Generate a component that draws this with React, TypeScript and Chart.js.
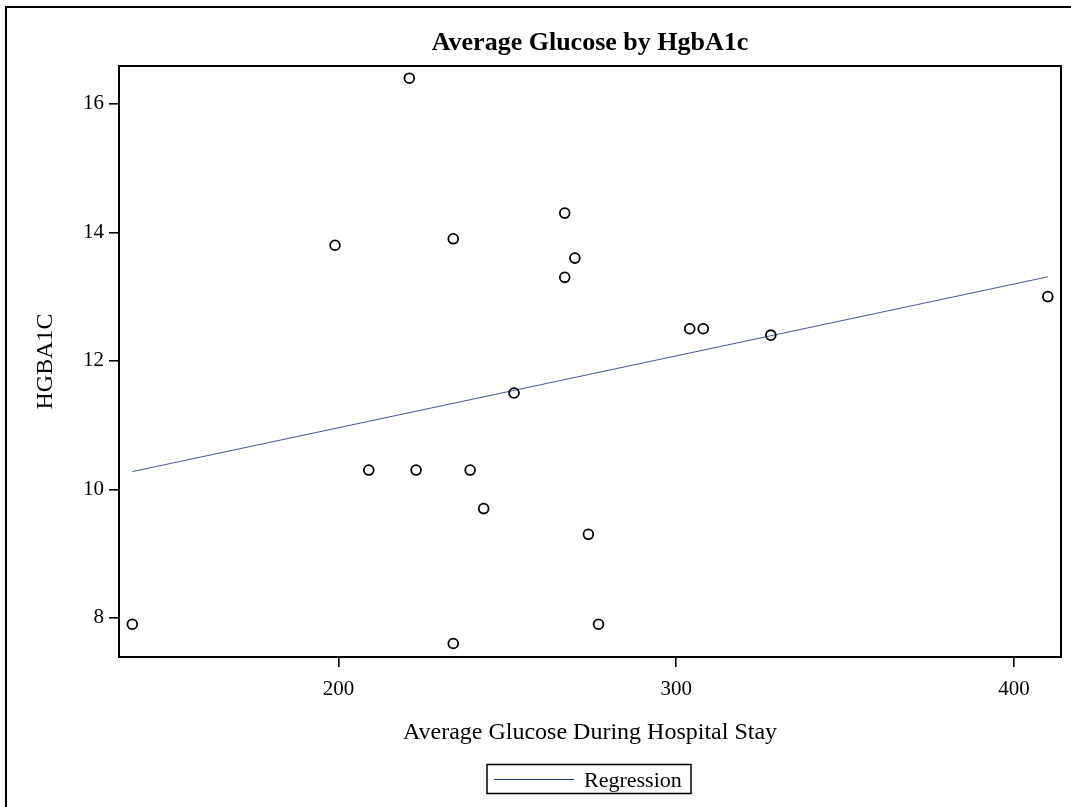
import React, { useEffect, useRef } from "react";
import { Chart, registerables } from "chart.js";

Chart.register(...registerables);

// ---- data ----
const glucose = [139, 199, 209, 221, 223, 234, 234, 239, 243, 252, 267, 267, 270, 274, 277, 304, 308, 328, 410];
const hgba1c = [7.9, 13.8, 10.3, 16.4, 10.3, 13.9, 7.6, 10.3, 9.7, 11.5, 14.3, 13.3, 13.6, 9.3, 7.9, 12.5, 12.5, 12.4, 13.0];
const xTicks = [200, 300, 400];
const yTicks = [8, 10, 12, 14, 16];
const xRange = [135.06, 413.9];
const yRange = [7.39, 16.59];
const titleText = "Average Glucose by HgbA1c";
const xTitleText = "Average Glucose During Hospital Stay";
const yTitleText = "HGBA1C";
const legendLabel = "Regression";

const lineColor = "#445694";
const serif = '"Liberation Serif", "Times New Roman", serif';

// least-squares regression from the data
function regression(xs: number[], ys: number[]) {
  const n = xs.length;
  const mx = xs.reduce((a, b) => a + b, 0) / n;
  const my = ys.reduce((a, b) => a + b, 0) / n;
  let sxy = 0;
  let sxx = 0;
  for (let i = 0; i < n; i++) {
    sxy += (xs[i] - mx) * (ys[i] - my);
    sxx += (xs[i] - mx) * (xs[i] - mx);
  }
  const slope = sxy / sxx;
  return { slope, intercept: my - slope * mx };
}

const decor = {
  id: "decor",
  afterDraw(chart: any) {
    const { ctx, chartArea: a } = chart;
    ctx.save();
    ctx.strokeStyle = "#000";
    ctx.fillStyle = "#000";
    // outer border (top & left visible)
    ctx.lineWidth = 2;
    ctx.beginPath();
    ctx.moveTo(6, 807);
    ctx.lineTo(6, 7);
    ctx.lineTo(1071, 7);
    ctx.stroke();
    // plot frame
    ctx.lineWidth = 2;
    ctx.strokeRect(a.left, a.top, a.right - a.left, a.bottom - a.top);
    const cx = (a.left + a.right) / 2;
    const cy = (a.top + a.bottom) / 2;
    // title
    ctx.font = `bold 26px ${serif}`;
    ctx.textAlign = "center";
    ctx.textBaseline = "alphabetic";
    ctx.fillText(titleText, cx, 50);
    // x title
    ctx.font = `24px ${serif}`;
    ctx.fillText(xTitleText, cx, 739);
    // y title
    ctx.save();
    ctx.translate(52, cy);
    ctx.rotate(-Math.PI / 2);
    ctx.fillText(yTitleText, 0, 0);
    ctx.restore();
    // legend
    ctx.lineWidth = 1.5;
    ctx.strokeRect(487, 764.5, 204, 29);
    ctx.strokeStyle = "#1f3a73";
    ctx.lineWidth = 1.2;
    ctx.beginPath();
    ctx.moveTo(494, 779.5);
    ctx.lineTo(574, 779.5);
    ctx.stroke();
    ctx.font = `22px ${serif}`;
    ctx.textAlign = "left";
    ctx.fillText(legendLabel, 584, 787);
    ctx.restore();
  },
};

export default function App() {
  const ref = useRef<HTMLCanvasElement | null>(null);

  useEffect(() => {
    const canvas = ref.current;
    if (!canvas) return;
    const { slope, intercept } = regression(glucose, hgba1c);
    const xMin = Math.min(...glucose);
    const xMax = Math.max(...glucose);
    const points = glucose.map((x, i) => ({ x, y: hgba1c[i] }));
    const fit = [
      { x: xMin, y: intercept + slope * xMin },
      { x: xMax, y: intercept + slope * xMax },
    ];

    const chart = new Chart(canvas, {
      type: "scatter",
      data: {
        datasets: [
          {
            type: "line",
            label: legendLabel,
            data: fit,
            borderColor: lineColor,
            borderWidth: 1,
            pointRadius: 0,
            fill: false,
            order: 2,
          } as any,
          {
            label: "HGBA1C",
            data: points,
            pointStyle: "circle",
            pointRadius: 4.9,
            pointBorderWidth: 1.8,
            borderColor: "#000",
            backgroundColor: "rgba(0,0,0,0)",
            order: 1,
          },
        ],
      },
      options: {
        responsive: false,
        animation: false,
        devicePixelRatio: 1,
        layout: { padding: { left: 0, top: 66, right: 10, bottom: 50 } },
        plugins: {
          legend: { display: false },
          title: { display: false },
          tooltip: { enabled: false },
        },
        scales: {
          x: {
            type: "linear",
            position: "bottom",
            min: xRange[0],
            max: xRange[1],
            afterBuildTicks: (s: any) => {
              s.ticks = xTicks.map((v) => ({ value: v }));
            },
            afterFit: (s: any) => {
              s.height = 100;
            },
            border: { display: false },
            grid: {
              drawOnChartArea: false,
              drawTicks: true,
              tickLength: 10,
              color: "#000",
              tickColor: "#000",
              lineWidth: 1.6,
            },
            ticks: {
              color: "#000",
              padding: 10,
              font: { family: serif, size: 21 },
              maxRotation: 0,
            },
          },
          y: {
            type: "linear",
            position: "left",
            min: yRange[0],
            max: yRange[1],
            afterBuildTicks: (s: any) => {
              s.ticks = yTicks.map((v) => ({ value: v }));
            },
            afterFit: (s: any) => {
              s.width = 119;
            },
            border: { display: false },
            grid: {
              drawOnChartArea: false,
              drawTicks: true,
              tickLength: 10,
              color: "#000",
              tickColor: "#000",
              lineWidth: 1.6,
            },
            ticks: {
              color: "#000",
              padding: 5,
              font: { family: serif, size: 21 },
            },
          },
        },
      },
      plugins: [decor],
    });

    return () => {
      chart.destroy();
    };
  }, []);

  return (
    <div
      style={{
        position: "absolute",
        left: 0,
        top: 0,
        width: 1071,
        height: 807,
        background: "#fff",
      }}
    >
      <canvas ref={ref} width={1071} height={807} style={{ display: "block" }} />
    </div>
  );
}
